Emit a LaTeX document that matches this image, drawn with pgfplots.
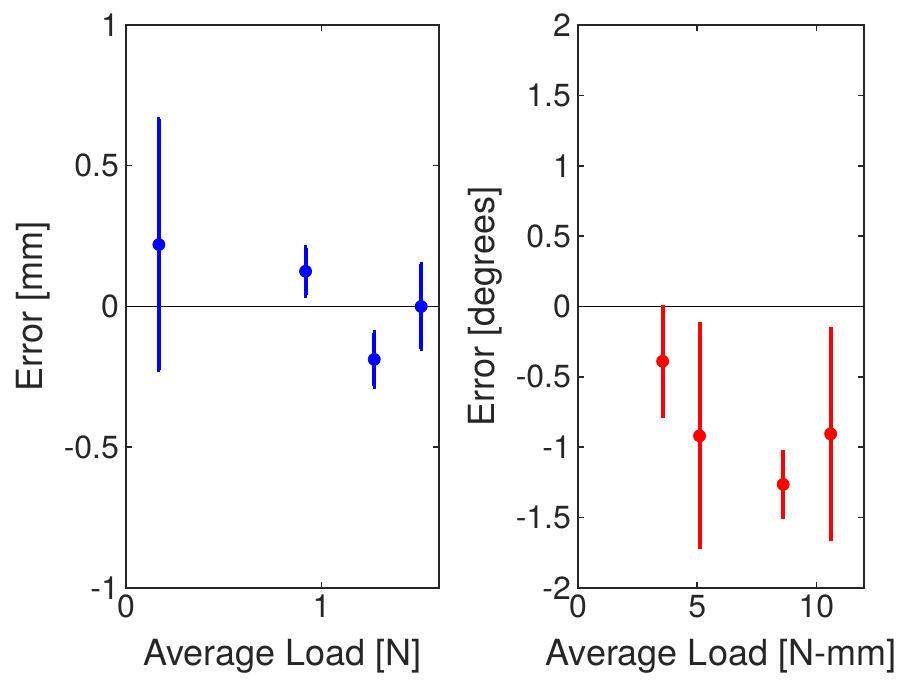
\documentclass[border=0pt]{standalone}
\usepackage{fontspec}
\setmainfont{TeX Gyre Heros}
\usepackage{pgfplots}
\pgfplotsset{compat=1.18}
\definecolor{axgray}{RGB}{38,38,38}

\pgfplotsset{
  matlab/.style={
    scale only axis,
    height=281.5pt,
    axis line style={axgray, line width=0.75pt},
    tick style={axgray, line width=0.75pt},
    major tick length=3pt,
    tick align=inside,
    ticklabel style={font=\fontsize{16}{19}\selectfont, text=axgray},
    every axis y label/.style={at={(axis description cs:0,0.5)}, xshift=-46.5pt, rotate=90, anchor=center,
      font=\fontsize{18}{22}\selectfont, text=axgray},
    every axis x label/.style={at={(axis description cs:0.5,0)}, yshift=-39pt, anchor=base,
      font=\fontsize{18}{22}\selectfont, text=axgray},
    error bars/y dir=both,
    error bars/y explicit,
  }
}

\pgfplotstableread{
x      y       ey
0.168  0.220   0.445
0.918  0.125   0.084
1.269  -0.188  0.095
1.509  0.000   0.150
}\leftdata

\pgfplotstableread{
x      y       ey
3.55   -0.389  0.400
5.10   -0.919  0.807
8.61   -1.264  0.244
10.60  -0.905  0.762
}\rightdata

\begin{document}
\begin{tikzpicture}
\useasboundingbox (-63pt,-46pt) rectangle (390.5pt,294pt);

\begin{axis}[matlab,
    at={(0,0)}, anchor=south west,
    width=156.5pt,
    xmin=0, xmax=1.6, ymin=-1, ymax=1,
    xtick={0,1}, xticklabels={0,1},
    ytick={-1,-0.5,0,0.5,1}, yticklabels={-1,-0.5,0,0.5,1},
    xlabel={Average Load [N]},
    ylabel={Error [mm]},
]
\addplot[black, line width=0.6pt, forget plot] coordinates {(0,0) (1.6,0)};
\addplot[blue, only marks, mark=*, mark size=3pt,
    error bars/error bar style={blue, line width=2pt},
    error bars/error mark options={blue, line width=1.6pt, mark size=1.3pt}]
  table[x=x, y=y, y error=ey] {\leftdata};
\end{axis}

\begin{axis}[matlab,
    at={(226pt,0)}, anchor=south west,
    width=143pt,
    xmin=0, xmax=12, ymin=-2, ymax=2,
    xtick={0,5,10}, xticklabels={0,5,10},
    ytick={-2,-1.5,-1,-0.5,0,0.5,1,1.5,2},
    yticklabels={-2,-1.5,-1,-0.5,0,0.5,1,1.5,2},
    xlabel={Average Load [N-mm]},
    ylabel={Error [degrees]},
]
\addplot[black, line width=0.6pt, forget plot] coordinates {(0,0) (12,0)};
\addplot[red, only marks, mark=*, mark size=3pt,
    error bars/error bar style={red, line width=2pt},
    error bars/error mark=none]
  table[x=x, y=y, y error=ey] {\rightdata};
\end{axis}
\end{tikzpicture}
\end{document}
